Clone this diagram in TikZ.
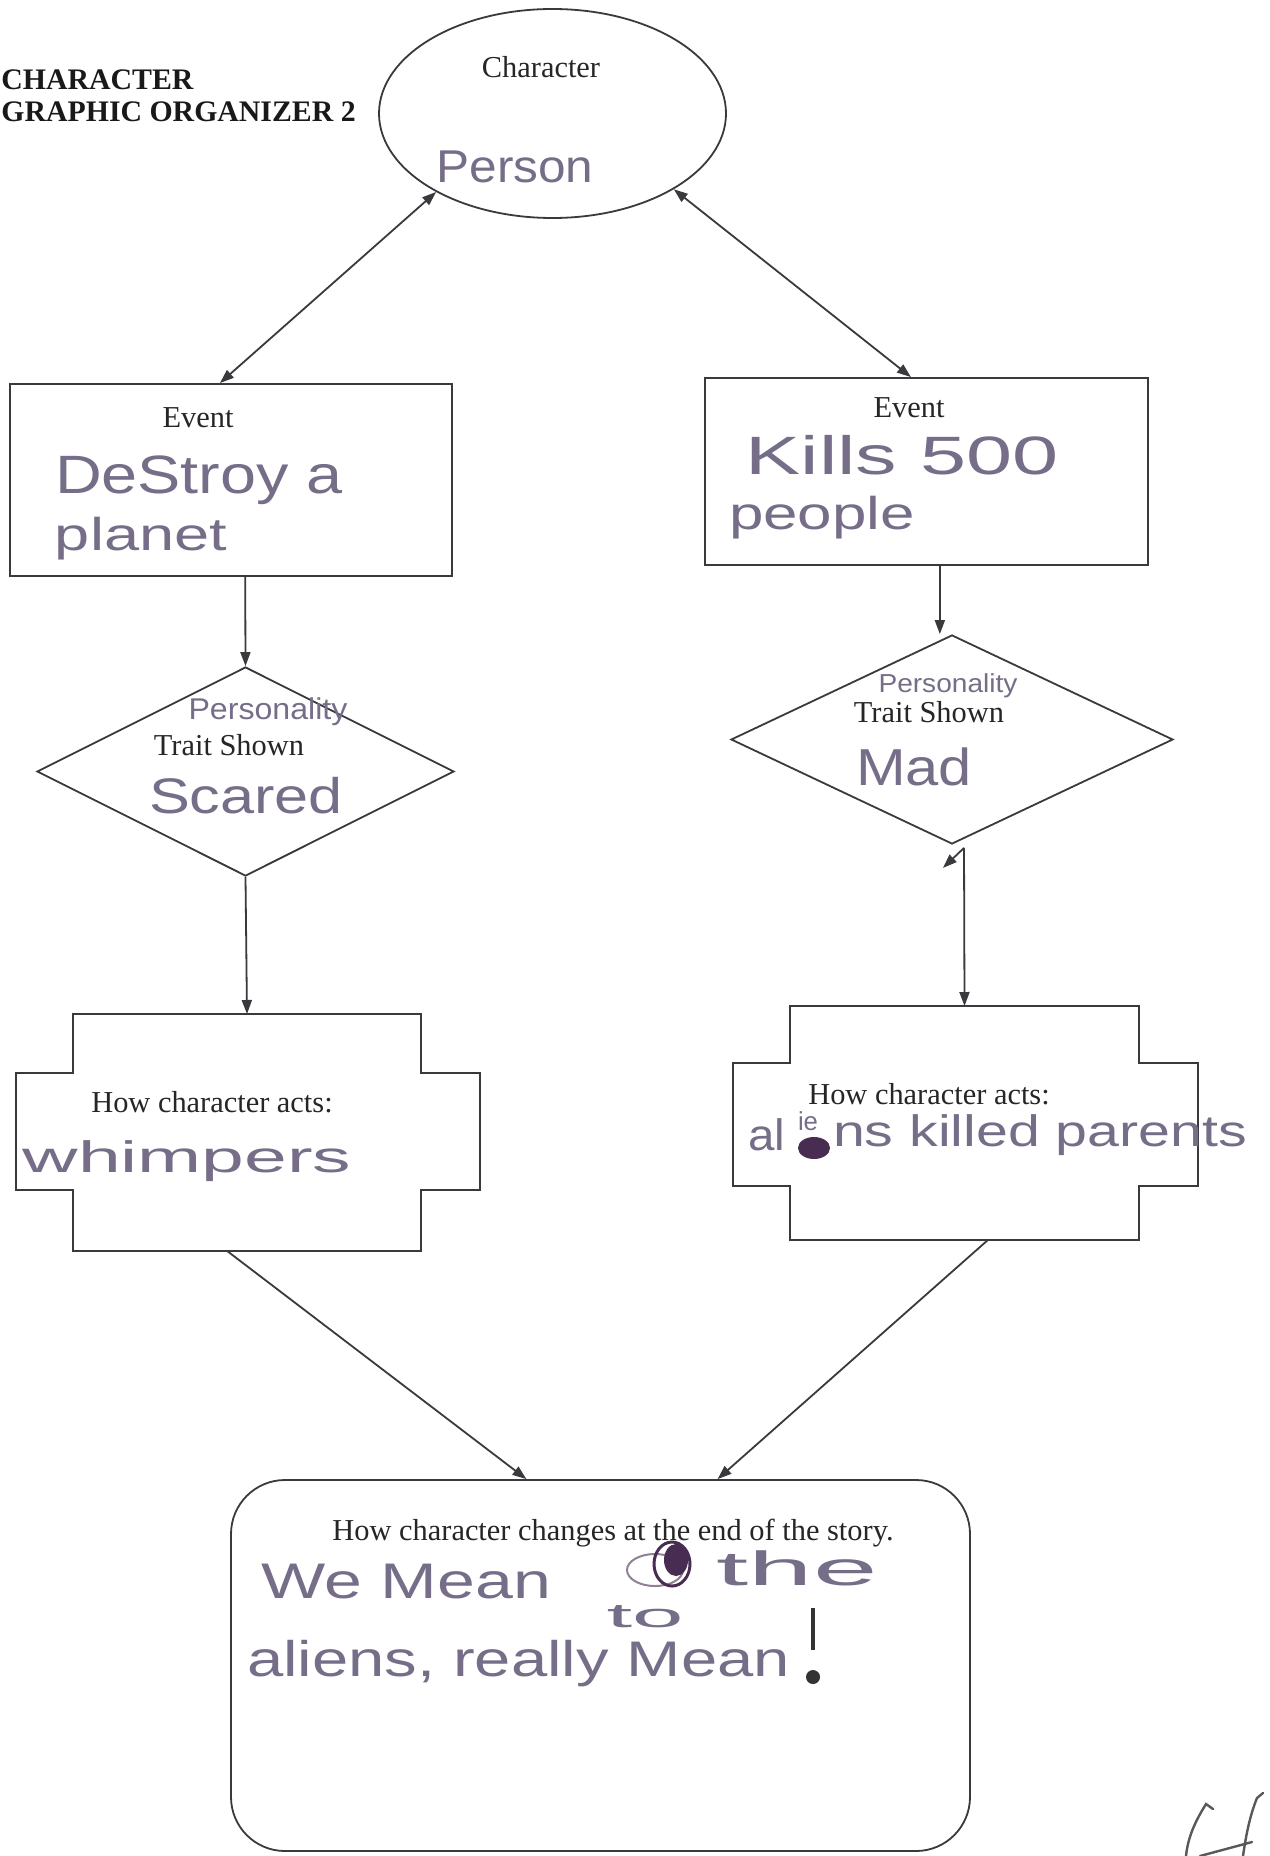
\documentclass[tikz,border=0pt]{standalone}
\usepackage{fontspec}
\setmainfont{Liberation Serif}
\newfontfamily\hwfont{Liberation Sans}
\usetikzlibrary{shapes.geometric,arrows.meta,calc}
\newlength\hwl
\newcommand\hw[3]{{\fontsize{#1}{#1}\hwfont\settowidth\hwl{#3}\pgfmathsetmacro\hwsx{#2/\hwl}\scalebox{\hwsx}[1]{#3}}}
\definecolor{ink}{RGB}{58,58,62}
\definecolor{pencil}{RGB}{118,110,136}
\definecolor{scrib}{RGB}{72,44,82}
\begin{document}
\begin{tikzpicture}[x=0.5pt,y=-0.5pt,
 edgeline/.style={draw=ink,line width=0.9pt},
 arr/.style={edgeline,-{Triangle[length=7pt,width=5pt]}},
 darr/.style={edgeline,{Triangle[length=7pt,width=5pt]}-{Triangle[length=7pt,width=5pt]}},
 ptext/.style={font=\fontsize{15.2}{17}\selectfont,text=black!85,inner sep=0pt},
 htext/.style={text=pencil,inner sep=0pt},
 ttext/.style={font=\fontsize{14.9}{18}\selectfont\bfseries,text=black!90,inner sep=0pt},
 invis/.style={inner sep=0pt,outer sep=0pt}]

\useasboundingbox (0,0) rectangle (1269,1856);
\clip (0,0) rectangle (1269,1856);
\fill[white] (0,0) rectangle (1269,1856);

% title
\node[ttext,anchor=base west] (t1) at (1,90) {CHARACTER};
\node[ttext,anchor=base west] (t2) at (1,122) {GRAPHIC ORGANIZER 2};

% character ellipse
\node[ellipse,edgeline,minimum width=173.5pt,minimum height=104.5pt,inner sep=0pt] (char) at (552.5,113.5) {};
\node[ptext] (charT) at (541,67) {Character};
\node[htext] (person) at (515,167) {\hw{23}{78.5pt}{Person}};

% event boxes
\node[edgeline,rectangle,minimum width=221pt,minimum height=96pt,inner sep=0pt] (ev1) at (231,480) {};
\node[ptext] (ev1T) at (198,418) {Event};
\node[htext] (ev1a) at (199,480) {\hw{27}{144pt}{DeStroy a}};
\node[htext] (ev1b) at (141,539) {\hw{23}{86pt}{planet}};

\node[edgeline,rectangle,minimum width=221.5pt,minimum height=93.5pt,inner sep=0pt] (ev2) at (926.5,471.5) {};
\node[ptext] (ev2T) at (909,408) {Event};
\node[htext] (ev2a) at (902,455) {\hw{27}{156.5pt}{Kills 500}};
\node[htext] (ev2b) at (822,518) {\hw{23}{93pt}{people}};

% diamonds
\node[diamond,edgeline,minimum width=208.5pt,minimum height=104.5pt,inner sep=0pt] (ld) at (245.5,771.5) {};
\node[htext] (ldP) at (268,712) {\hw{15}{79.5pt}{Personality}};
\node[ptext] (ldT) at (229,745) {Trait Shown};
\node[htext] (ldS) at (246,796) {\hw{25}{97pt}{Scared}};

\node[diamond,edgeline,minimum width=221pt,minimum height=104.5pt,inner sep=0pt] (rd) at (952,739.5) {};
\node[htext] (rdP) at (948,686) {\hw{13}{69.5pt}{Personality}};
\node[ptext] (rdT) at (929,712) {Trait Shown};
\node[htext] (rdM) at (914,767) {\hw{26}{58pt}{Mad}};

% "how character acts" shapes
\draw[edgeline] (73,1014) -- (421,1014) -- (421,1073) -- (480,1073) -- (480,1190) -- (421,1190) -- (421,1251) -- (73,1251) -- (73,1190) -- (16,1190) -- (16,1073) -- (73,1073) -- cycle;
\node[invis,minimum width=174pt,minimum height=118.5pt] (la) at (247,1132.5) {};
\node[ptext] (laT) at (212,1102) {How character acts:};
\node[htext] (laH) at (187,1161) {\hw{22}{164.5pt}{whimpers}};

\draw[edgeline] (790,1006) -- (1139,1006) -- (1139,1063) -- (1198,1063) -- (1198,1186) -- (1139,1186) -- (1139,1240) -- (790,1240) -- (790,1186) -- (733,1186) -- (733,1063) -- (790,1063) -- cycle;
\node[invis,minimum width=174.5pt,minimum height=117pt] (ra) at (964.5,1123) {};
\node[ptext] (raT) at (929,1094) {How character acts:};
\node[htext] (raA) at (767,1135) {\hw{22}{18.5pt}{al}};
\node[htext] (raB) at (1040,1135) {\hw{22}{207pt}{ns killed parents}};
\node[htext] (raIE) at (808,1121) {\hw{13}{10pt}{ie}};
\fill[scrib] (814,1148) ellipse [x radius=8pt, y radius=5.5pt];

% bottom box
\node[edgeline,rectangle,rounded corners=27pt,minimum width=369.5pt,minimum height=185.5pt,inner sep=0pt] (bb) at (600.5,1665.5) {};
\node[ptext,anchor=base] (bbT) at (613,1540) {How character changes at the end of the story.};
\node[htext] (bbA) at (406,1582) {\hw{25}{145pt}{We Mean}};
\node[htext] (bbB) at (797,1568) {\hw{24}{80.5pt}{the}};
\draw[scrib!60,line width=1pt] (655,1570) ellipse [x radius=14pt, y radius=8pt];
\draw[scrib,line width=1.5pt] (672,1564) ellipse [x radius=9pt, y radius=11pt];
\fill[scrib] (676,1560) ellipse [x radius=6pt, y radius=8pt];
\node[htext] (bbTo) at (645,1617) {\hw{17}{38.5pt}{to}};
\node[htext] (bbC) at (518.5,1664) {\hw{25}{271.5pt}{aliens, really Mean}};
\draw[black!80,line width=2pt] (813,1608) -- (813,1650);
\fill[black!80] (813,1677) circle (3.5pt);

% page number mark
\draw[black!65,line width=1.2pt,line cap=round]
  (1213,1809) -- (1206,1804) .. controls (1196,1820) and (1188,1836) .. (1186,1856)
  (1263,1793) -- (1257,1798) .. controls (1250,1815) and (1246,1835) .. (1243,1856)
  (1200,1856) -- (1252,1842);

% connectors
\draw[darr] (char.214) -- ($(ev1.north west)!0.475!(ev1.north east)$);
\draw[darr] (char.-32) -- ($(ev2.north west)!0.465!(ev2.north east)$);
\draw[arr] ($(ev1.south west)!0.532!(ev1.south east)$) -- (ld.north);
\coordinate (e2s) at ($(ev2.south west)!0.530!(ev2.south east)$);
\draw[arr] (e2s) -- (e2s |- rd.north);
\draw[arr] (ld.south) -- (la.north);
\coordinate (rds) at ([xshift=6pt,yshift=-1.5pt]rd.south);
\draw[arr] (rds) -- (ra.north);
\draw[arr] (rds) -- ++(-21,20);
\draw[arr] ($(la.south west)!0.443!(la.south east)$) -- ($(bb.north west)!0.4!(bb.north east)$);
\draw[arr] ($(ra.south west)!0.567!(ra.south east)$) -- ($(bb.north west)!0.658!(bb.north east)$);
\end{tikzpicture}
\end{document}
